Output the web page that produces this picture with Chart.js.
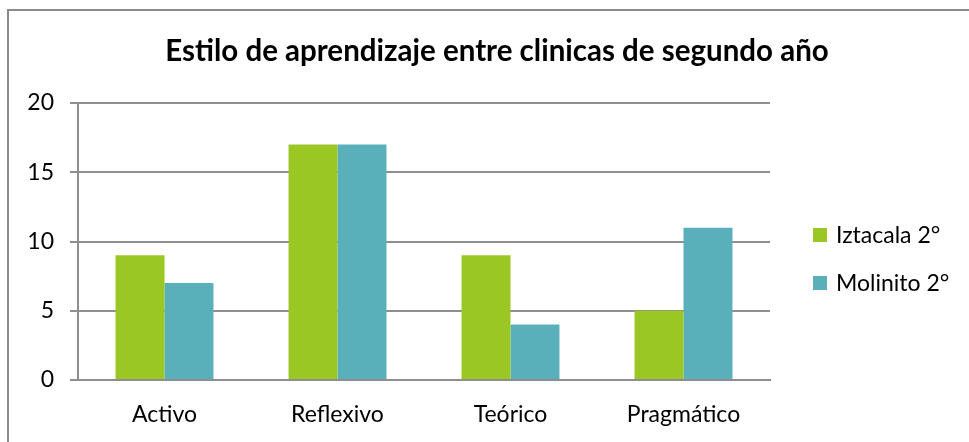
<!DOCTYPE html>
<html><head><meta charset="utf-8">
<script src="https://cdn.jsdelivr.net/npm/chart.js@4/dist/chart.umd.min.js"></script>
<style>
html,body{margin:0;padding:0;background:#fff;overflow:hidden}
#wrap{position:absolute;left:0;top:0;width:969px;height:442px}
#frame{position:absolute;left:7px;top:9px;width:1000px;height:500px;border:2px solid #8c8c8c;box-sizing:border-box;pointer-events:none}
</style></head><body>
<div id="wrap"><canvas id="c" width="969" height="442"></canvas></div>
<div id="frame"></div>
<script>
const categories = ['Activo', 'Reflexivo', 'Teórico', 'Pragmático'];
const iztacala = [9, 17, 9, 5];
const molinito = [7, 17, 4, 11];
const seriesNames = ['Iztacala 2°', 'Molinito 2°'];
const seriesColors = ['#9BC724', '#5AB0BA'];
const titleText = 'Estilo de aprendizaje entre clinicas de segundo año';
const yMin = 0, yMax = 20, yStep = 5;

const FONT = 'Lato, "Open Sans", sans-serif';
const GRID = '#8e8e8e';

const titleLegendPlugin = {
  id: 'titleLegend',
  afterDraw(chart) {
    const ctx = chart.ctx;
    ctx.save();
    // title
    ctx.font = 'bold 29.5px ' + FONT;
    ctx.fillStyle = '#000';
    ctx.textAlign = 'center';
    ctx.textBaseline = 'alphabetic';
    ctx.fillText(titleText, 497, 61);
    // legend
    ctx.font = '23px ' + FONT;
    ctx.textBaseline = 'middle';
    ctx.textAlign = 'left';
    const ys = [235, 283];
    chart.data.datasets.forEach((ds, i) => {
      ctx.fillStyle = ds.backgroundColor;
      ctx.fillRect(813, ys[i] - 7, 14, 14);
      ctx.fillStyle = '#000';
      ctx.fillText(ds.label, 836, ys[i] + 1);
    });
    ctx.restore();
  }
};

new Chart(document.getElementById('c'), {
  type: 'bar',
  data: {
    labels: categories,
    datasets: [
      { label: seriesNames[0], data: iztacala, backgroundColor: seriesColors[0] },
      { label: seriesNames[1], data: molinito, backgroundColor: seriesColors[1] }
    ]
  },
  options: {
    responsive: false,
    animation: false,
    devicePixelRatio: 1,
    layout: { padding: { top: 103, left: 0, right: 199, bottom: 0 } },
    datasets: { bar: { categoryPercentage: 0.566, barPercentage: 1 } },
    plugins: {
      legend: { display: false },
      tooltip: { enabled: false },
      title: { display: false }
    },
    scales: {
      x: {
        grid: { display: false, drawTicks: false },
        border: { display: true, color: GRID, width: 2 },
        ticks: { color: '#000', font: { family: FONT, size: 23 }, padding: 21 },
        afterFit(s) { s.height = 62; }
      },
      y: {
        min: yMin, max: yMax,
        ticks: { stepSize: yStep, color: '#000', font: { family: FONT, size: 23 }, padding: 16 },
        grid: { color: GRID, lineWidth: 2, tickLength: 8, drawTicks: true },
        border: { display: true, color: GRID, width: 2 },
        afterFit(s) { s.width = 78; }
      }
    }
  },
  plugins: [titleLegendPlugin]
});
</script>
</body></html>
